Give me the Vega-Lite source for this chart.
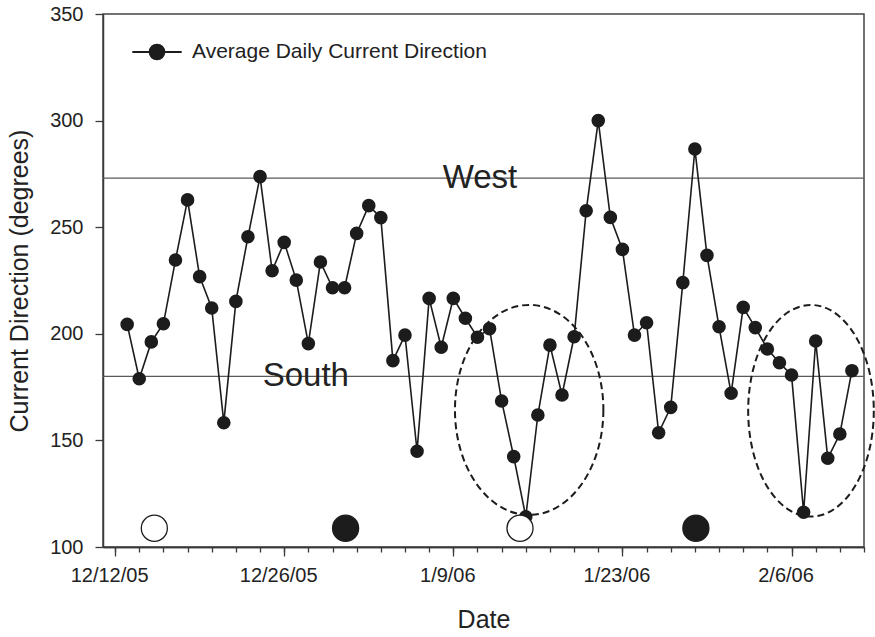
{
  "$schema": "https://vega.github.io/schema/vega-lite/v6.json",
  "width": 761,
  "height": 533,
  "autosize": {"type": "none"},
  "padding": {"left": 103, "top": 14, "right": 11, "bottom": 90},
  "background": "white",
  "config": {
    "font": "Liberation Sans",
    "view": {"stroke": "#444444", "strokeWidth": 1.5},
    "axis": {
      "domainColor": "#3a3a3a", "domainWidth": 1.5, "tickColor": "#3a3a3a", "tickWidth": 1.3,
      "labelColor": "#222222", "titleColor": "#222222", "labelFont": "Liberation Sans", "titleFont": "Liberation Sans",
      "titleFontWeight": "normal", "grid": false
    }
  },
  "datasets": {
    "current": [
      {"date": "2005-12-13", "dir": 204.4, "series": "Average Daily Current Direction"},
      {"date": "2005-12-14", "dir": 178.9, "series": "Average Daily Current Direction"},
      {"date": "2005-12-15", "dir": 196.2, "series": "Average Daily Current Direction"},
      {"date": "2005-12-16", "dir": 204.7, "series": "Average Daily Current Direction"},
      {"date": "2005-12-17", "dir": 234.6, "series": "Average Daily Current Direction"},
      {"date": "2005-12-18", "dir": 262.8, "series": "Average Daily Current Direction"},
      {"date": "2005-12-19", "dir": 226.8, "series": "Average Daily Current Direction"},
      {"date": "2005-12-20", "dir": 212.1, "series": "Average Daily Current Direction"},
      {"date": "2005-12-21", "dir": 158.3, "series": "Average Daily Current Direction"},
      {"date": "2005-12-22", "dir": 215.2, "series": "Average Daily Current Direction"},
      {"date": "2005-12-23", "dir": 245.5, "series": "Average Daily Current Direction"},
      {"date": "2005-12-24", "dir": 273.7, "series": "Average Daily Current Direction"},
      {"date": "2005-12-25", "dir": 229.6, "series": "Average Daily Current Direction"},
      {"date": "2005-12-26", "dir": 242.9, "series": "Average Daily Current Direction"},
      {"date": "2005-12-27", "dir": 225.2, "series": "Average Daily Current Direction"},
      {"date": "2005-12-28", "dir": 195.4, "series": "Average Daily Current Direction"},
      {"date": "2005-12-29", "dir": 233.7, "series": "Average Daily Current Direction"},
      {"date": "2005-12-30", "dir": 221.6, "series": "Average Daily Current Direction"},
      {"date": "2005-12-31", "dir": 221.6, "series": "Average Daily Current Direction"},
      {"date": "2006-01-01", "dir": 247.1, "series": "Average Daily Current Direction"},
      {"date": "2006-01-02", "dir": 260.1, "series": "Average Daily Current Direction"},
      {"date": "2006-01-03", "dir": 254.5, "series": "Average Daily Current Direction"},
      {"date": "2006-01-04", "dir": 187.4, "series": "Average Daily Current Direction"},
      {"date": "2006-01-05", "dir": 199.4, "series": "Average Daily Current Direction"},
      {"date": "2006-01-06", "dir": 144.9, "series": "Average Daily Current Direction"},
      {"date": "2006-01-07", "dir": 216.6, "series": "Average Daily Current Direction"},
      {"date": "2006-01-08", "dir": 193.7, "series": "Average Daily Current Direction"},
      {"date": "2006-01-09", "dir": 216.6, "series": "Average Daily Current Direction"},
      {"date": "2006-01-10", "dir": 207.3, "series": "Average Daily Current Direction"},
      {"date": "2006-01-11", "dir": 198.4, "series": "Average Daily Current Direction"},
      {"date": "2006-01-12", "dir": 202.4, "series": "Average Daily Current Direction"},
      {"date": "2006-01-13", "dir": 168.5, "series": "Average Daily Current Direction"},
      {"date": "2006-01-14", "dir": 142.4, "series": "Average Daily Current Direction"},
      {"date": "2006-01-15", "dir": 114.2, "series": "Average Daily Current Direction"},
      {"date": "2006-01-16", "dir": 161.9, "series": "Average Daily Current Direction"},
      {"date": "2006-01-17", "dir": 194.7, "series": "Average Daily Current Direction"},
      {"date": "2006-01-18", "dir": 171.3, "series": "Average Daily Current Direction"},
      {"date": "2006-01-19", "dir": 198.6, "series": "Average Daily Current Direction"},
      {"date": "2006-01-20", "dir": 257.7, "series": "Average Daily Current Direction"},
      {"date": "2006-01-21", "dir": 300.0, "series": "Average Daily Current Direction"},
      {"date": "2006-01-22", "dir": 254.6, "series": "Average Daily Current Direction"},
      {"date": "2006-01-23", "dir": 239.6, "series": "Average Daily Current Direction"},
      {"date": "2006-01-24", "dir": 199.4, "series": "Average Daily Current Direction"},
      {"date": "2006-01-25", "dir": 205.2, "series": "Average Daily Current Direction"},
      {"date": "2006-01-26", "dir": 153.6, "series": "Average Daily Current Direction"},
      {"date": "2006-01-27", "dir": 165.5, "series": "Average Daily Current Direction"},
      {"date": "2006-01-28", "dir": 224.0, "series": "Average Daily Current Direction"},
      {"date": "2006-01-29", "dir": 286.7, "series": "Average Daily Current Direction"},
      {"date": "2006-01-30", "dir": 236.8, "series": "Average Daily Current Direction"},
      {"date": "2006-01-31", "dir": 203.3, "series": "Average Daily Current Direction"},
      {"date": "2006-02-01", "dir": 172.1, "series": "Average Daily Current Direction"},
      {"date": "2006-02-02", "dir": 212.4, "series": "Average Daily Current Direction"},
      {"date": "2006-02-03", "dir": 202.9, "series": "Average Daily Current Direction"},
      {"date": "2006-02-04", "dir": 192.9, "series": "Average Daily Current Direction"},
      {"date": "2006-02-05", "dir": 186.4, "series": "Average Daily Current Direction"},
      {"date": "2006-02-06", "dir": 180.7, "series": "Average Daily Current Direction"},
      {"date": "2006-02-07", "dir": 116.3, "series": "Average Daily Current Direction"},
      {"date": "2006-02-08", "dir": 196.6, "series": "Average Daily Current Direction"},
      {"date": "2006-02-09", "dir": 141.6, "series": "Average Daily Current Direction"},
      {"date": "2006-02-10", "dir": 153.0, "series": "Average Daily Current Direction"},
      {"date": "2006-02-11", "dir": 182.7, "series": "Average Daily Current Direction"}
    ],
    "refs": [
      {"label": "West", "dir": 273, "date": "2006-01-11T05:00:00Z"},
      {"label": "South", "dir": 180, "date": "2005-12-27T19:00:00Z"}
    ],
    "moons": [
      {"phase": "Full moon", "date": "2005-12-15T06:00:00Z", "dir": 108.8},
      {"phase": "New moon", "date": "2005-12-31T02:00:00Z", "dir": 108.8},
      {"phase": "Full moon", "date": "2006-01-14T12:30:00Z", "dir": 108.8},
      {"phase": "New moon", "date": "2006-01-29T02:00:00Z", "dir": 108.8}
    ],
    "ellipse1": [{"date": "2006-01-15T06:44:00Z", "dir": 164.3}],
    "ellipse2": [{"date": "2006-02-07T14:40:00Z", "dir": 163.9}]
  },
  "resolve": {"axis": {"x": "independent"}},
  "layer": [
    {
      "data": {"name": "refs"},
      "mark": {"type": "rule", "color": "#5a5a5a", "strokeWidth": 1.3},
      "encoding": {
        "y": {
          "field": "dir", "type": "quantitative",
          "scale": {"domain": [100, 350], "nice": false, "zero": false},
          "axis": {
            "values": [100, 150, 200, 250, 300, 350], "tickSize": 8, "labelFontSize": 20, "labelPadding": 12,
            "title": "Current Direction (degrees)", "titleFontSize": 25, "titleX": -71
          }
        }
      }
    },
    {
      "data": {"name": "ellipse1"},
      "mark": {
        "type": "point", "filled": false, "opacity": 1, "size": 44100,
        "shape": "M0.7067,0C0.7067,0.5523 0.3903,1 0,1C-0.3903,1 -0.7067,0.5523 -0.7067,0C-0.7067,-0.5523 -0.3903,-1 0,-1C0.3903,-1 0.7067,-0.5523 0.7067,0Z",
        "stroke": "#1c1c1c", "strokeWidth": 2, "strokeDash": [7, 4]
      },
      "encoding": {
        "x": {"field": "date", "type": "temporal", "axis": null},
        "y": {"field": "dir", "type": "quantitative"}
      }
    },
    {
      "data": {"name": "ellipse2"},
      "mark": {
        "type": "point", "filled": false, "opacity": 1, "size": 44775,
        "shape": "M0.5936,0C0.5936,0.5523 0.3278,1 0,1C-0.3278,1 -0.5936,0.5523 -0.5936,0C-0.5936,-0.5523 -0.3278,-1 0,-1C0.3278,-1 0.5936,-0.5523 0.5936,0Z",
        "stroke": "#1c1c1c", "strokeWidth": 2, "strokeDash": [7, 4]
      },
      "encoding": {
        "x": {"field": "date", "type": "temporal", "axis": null},
        "y": {"field": "dir", "type": "quantitative"}
      }
    },
    {
      "data": {"name": "current"},
      "mark": {"type": "line", "strokeWidth": 1.6},
      "encoding": {
        "x": {
          "field": "date", "type": "temporal",
          "scale": {"type": "utc", "domain": [{"year": 2005, "month": 12, "date": 11, "utc": true}, {"year": 2006, "month": 2, "date": 12, "utc": true}]},
          "axis": {
            "orient": "bottom", "labels": false, "title": null, "tickSize": 5, "domain": true,
            "values": [
              {"year": 2005, "month": 12, "date": 12, "utc": true}, {"year": 2005, "month": 12, "date": 14, "utc": true},
              {"year": 2005, "month": 12, "date": 16, "utc": true}, {"year": 2005, "month": 12, "date": 18, "utc": true},
              {"year": 2005, "month": 12, "date": 20, "utc": true}, {"year": 2005, "month": 12, "date": 22, "utc": true},
              {"year": 2005, "month": 12, "date": 24, "utc": true}, {"year": 2005, "month": 12, "date": 26, "utc": true},
              {"year": 2005, "month": 12, "date": 28, "utc": true}, {"year": 2005, "month": 12, "date": 30, "utc": true},
              {"year": 2006, "month": 1, "date": 1, "utc": true}, {"year": 2006, "month": 1, "date": 3, "utc": true},
              {"year": 2006, "month": 1, "date": 5, "utc": true}, {"year": 2006, "month": 1, "date": 7, "utc": true},
              {"year": 2006, "month": 1, "date": 9, "utc": true}, {"year": 2006, "month": 1, "date": 11, "utc": true},
              {"year": 2006, "month": 1, "date": 13, "utc": true}, {"year": 2006, "month": 1, "date": 15, "utc": true},
              {"year": 2006, "month": 1, "date": 17, "utc": true}, {"year": 2006, "month": 1, "date": 19, "utc": true},
              {"year": 2006, "month": 1, "date": 21, "utc": true}, {"year": 2006, "month": 1, "date": 23, "utc": true},
              {"year": 2006, "month": 1, "date": 25, "utc": true}, {"year": 2006, "month": 1, "date": 27, "utc": true},
              {"year": 2006, "month": 1, "date": 29, "utc": true}, {"year": 2006, "month": 1, "date": 31, "utc": true},
              {"year": 2006, "month": 2, "date": 2, "utc": true}, {"year": 2006, "month": 2, "date": 4, "utc": true},
              {"year": 2006, "month": 2, "date": 6, "utc": true}, {"year": 2006, "month": 2, "date": 8, "utc": true},
              {"year": 2006, "month": 2, "date": 10, "utc": true}, {"year": 2006, "month": 2, "date": 12, "utc": true}
            ]
          }
        },
        "y": {"field": "dir", "type": "quantitative"},
        "color": {"field": "series", "type": "nominal", "scale": {"range": ["#1c1c1c"]}}
      }
    },
    {
      "data": {"name": "current"},
      "mark": {"type": "point", "filled": true, "opacity": 1, "size": 185, "shape": "circle"},
      "encoding": {
        "x": {
          "field": "date", "type": "temporal",
          "axis": {
            "orient": "bottom", "tickSize": 9, "labelFontSize": 20, "labelPadding": 9, "labelOffset": -6, "format": "%-m/%-d/%y",
            "title": "Date", "titleFontSize": 25, "titlePadding": 22,
            "values": [
              {"year": 2005, "month": 12, "date": 12, "utc": true}, {"year": 2005, "month": 12, "date": 26, "utc": true},
              {"year": 2006, "month": 1, "date": 9, "utc": true}, {"year": 2006, "month": 1, "date": 23, "utc": true},
              {"year": 2006, "month": 2, "date": 6, "utc": true}
            ]
          }
        },
        "y": {"field": "dir", "type": "quantitative"},
        "color": {
          "field": "series", "type": "nominal", "title": null,
          "legend": {
            "orient": "none", "legendX": 28, "legendY": 12, "padding": 0, "title": null,
            "symbolType": "M-1,0L1,0M0.3,0C0.3,0.1657 0.1657,0.3 0,0.3C-0.1657,0.3 -0.3,0.1657 -0.3,0C-0.3,-0.1657 -0.1657,-0.3 0,-0.3C0.1657,-0.3 0.3,-0.1657 0.3,0Z",
            "symbolSize": 2440, "symbolStrokeWidth": 1.8, "labelFontSize": 21, "labelColor": "#222222", "labelOffset": 9,
            "labelFont": "Liberation Sans", "labelLimit": 600,
            "encode": {"symbols": {"update": {"fill": {"value": "#1c1c1c"}, "stroke": {"value": "#1c1c1c"}, "opacity": {"value": 1}}}}
          }
        }
      }
    },
    {
      "data": {"name": "moons"},
      "mark": {"type": "point", "filled": true, "opacity": 1, "size": 680, "shape": "circle", "stroke": "#1c1c1c", "strokeWidth": 1.3},
      "encoding": {
        "x": {"field": "date", "type": "temporal", "axis": null},
        "y": {"field": "dir", "type": "quantitative"},
        "fill": {"field": "phase", "type": "nominal", "scale": {"domain": ["Full moon", "New moon"], "range": ["#ffffff", "#1c1c1c"]}, "legend": null}
      }
    },
    {
      "data": {"name": "refs"},
      "mark": {"type": "text", "fontSize": 33, "color": "#222222", "align": "center", "baseline": "middle", "font": "Liberation Sans"},
      "encoding": {
        "x": {"field": "date", "type": "temporal", "axis": null},
        "y": {"field": "dir", "type": "quantitative"},
        "text": {"field": "label"}
      }
    }
  ]
}
